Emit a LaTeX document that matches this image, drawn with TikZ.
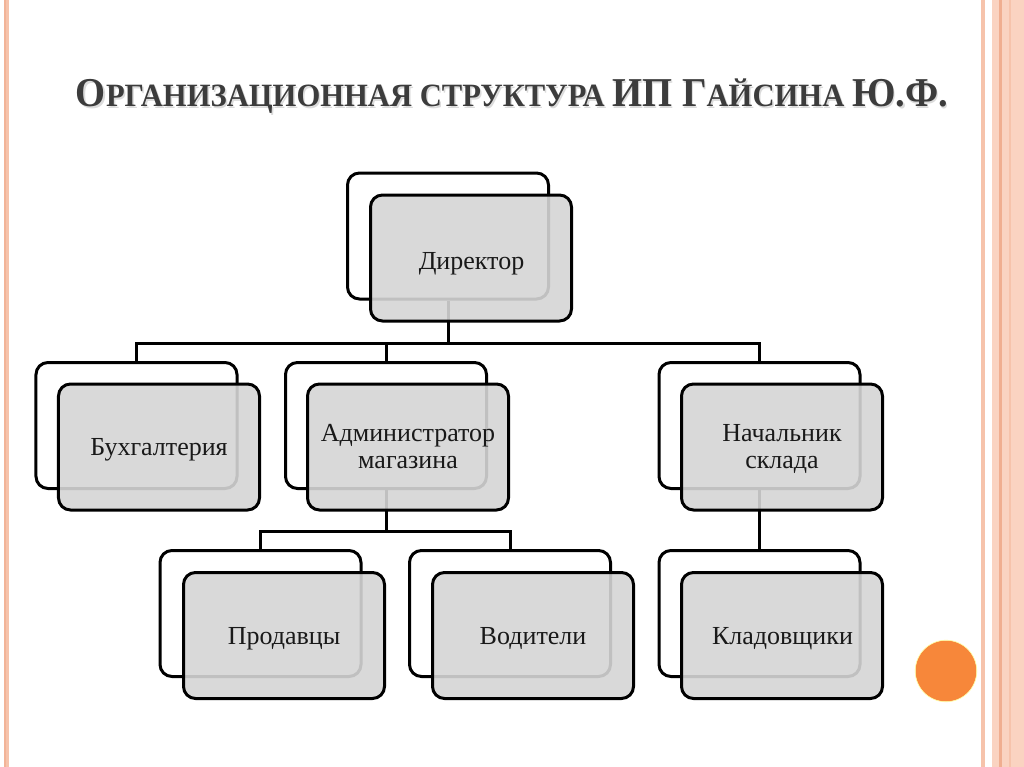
\documentclass[tikz,border=0pt]{standalone}
\usepackage{fontspec}
\setmainfont{Liberation Serif}
\usepackage{graphicx}
\usetikzlibrary{calc}
\definecolor{stripe}{HTML}{F6C3AB}
\definecolor{stripelight}{HTML}{FAD3C1}
\definecolor{stripedark}{HTML}{F0AE90}
\definecolor{frontfill}{HTML}{D5D5D5}
\definecolor{titlegray}{HTML}{3C3C3C}
\definecolor{dotorange}{HTML}{F7873A}
\newcommand\ttlbig[1]{{\fontsize{41bp}{41bp}\selectfont #1}}
\newcommand\ttlsmall[1]{{\fontsize{32.5bp}{32.5bp}\selectfont #1}}
\newcommand\titletext{\bfseries\ttlbig{О}\ttlsmall{РГАНИЗАЦИОННАЯ СТРУКТУРА }\ttlbig{ИП Г}\ttlsmall{АЙСИНА }\ttlbig{Ю.Ф.}}
\begin{document}
\begin{tikzpicture}[x=1bp,y=-1bp,
  backbox/.style={draw=black, line width=3bp, rounded corners=12bp, fill=white,
    minimum width=201bp, minimum height=126bp, inner sep=0pt},
  frontbox/.style={draw=black, line width=3bp, rounded corners=12bp, fill=frontfill,
    fill opacity=0.9, minimum width=201bp, minimum height=126bp, inner sep=0pt},
  boxtext/.style={align=center, font=\fontsize{26bp}{26.5bp}\selectfont, text=black!90, inner sep=0pt},
  conn/.style={draw=black, line width=3bp}]
\useasboundingbox (0,0) rectangle (1024,767);
\fill[white] (0,0) rectangle (1024,767);
% side stripes
\fill[stripe] (4,0) rectangle (9,767);
\fill[stripedark!70!stripe] (4,0) rectangle (5.5,767);
\fill[stripe] (981,0) rectangle (985,767);
\fill[stripelight] (992,0) rectangle (1024,767);
\fill[stripedark] (999,0) rectangle (1002,767);
\fill[stripe] (1009,0) rectangle (1011,767);
% title
\node[anchor=base, text=gray!40, opacity=0.7] (titleshadow) at (513.5,108.5) {\resizebox{872bp}{\height}{\titletext}};
\node[anchor=base, text=titlegray] (title) at (512,106) {\resizebox{872bp}{\height}{\titletext}};
% back boxes
\node[backbox] (dirB) at (448,236) {};
\node[backbox] (buhB) at (136.5,425.5) {};
\node[backbox] (admB) at (386,425.5) {};
\node[backbox] (nacB) at (759.5,425.5) {};
\node[backbox] (proB) at (260.5,613.5) {};
\node[backbox] (vodB) at (510,613.5) {};
\node[backbox] (klaB) at (759.5,613.5) {};
% connectors
\coordinate (busA) at (0,343);
\coordinate (busB) at (0,531);
\draw[conn] (dirB.south) -- (dirB.south |- busA) -| (buhB.north);
\draw[conn] (dirB.south |- busA) -| (admB.north);
\draw[conn] (dirB.south |- busA) -| (nacB.north);
\draw[conn] (admB.south) -- (admB.south |- busB) -| (proB.north);
\draw[conn] (admB.south |- busB) -| (vodB.north);
\draw[conn] (nacB.south) -- (klaB.north);
% front boxes
\node[frontbox] (dir) at (471,258) {};
\node[frontbox] (buh) at (159,447) {};
\node[frontbox] (adm) at (408,447) {};
\node[frontbox] (nac) at (782,447) {};
\node[frontbox] (pro) at (284,635.5) {};
\node[frontbox] (vod) at (533,635.5) {};
\node[frontbox] (kla) at (782,635.5) {};
% texts
\node[boxtext, anchor=base] (dirT) at (471.5,269) {Директор};
\node[boxtext, anchor=base] (buhT) at (159,455) {Бухгалтерия};
\node[boxtext, anchor=base] (admT) at (408,468) {Администратор\\магазина};
\node[boxtext, anchor=base] (nacT) at (782,468) {Начальник\\склада};
\node[boxtext, anchor=base] (proT) at (284,644) {Продавцы};
\node[boxtext, anchor=base] (vodT) at (533,644) {Водители};
\node[boxtext, anchor=base] (klaT) at (782.5,644) {Кладовщики};
% orange dot
\fill[dotorange] (946,671) circle (30.5);
\draw[yellow!40!white, line width=0.6bp] (946,671) circle (30.8);
\end{tikzpicture}
\end{document}
